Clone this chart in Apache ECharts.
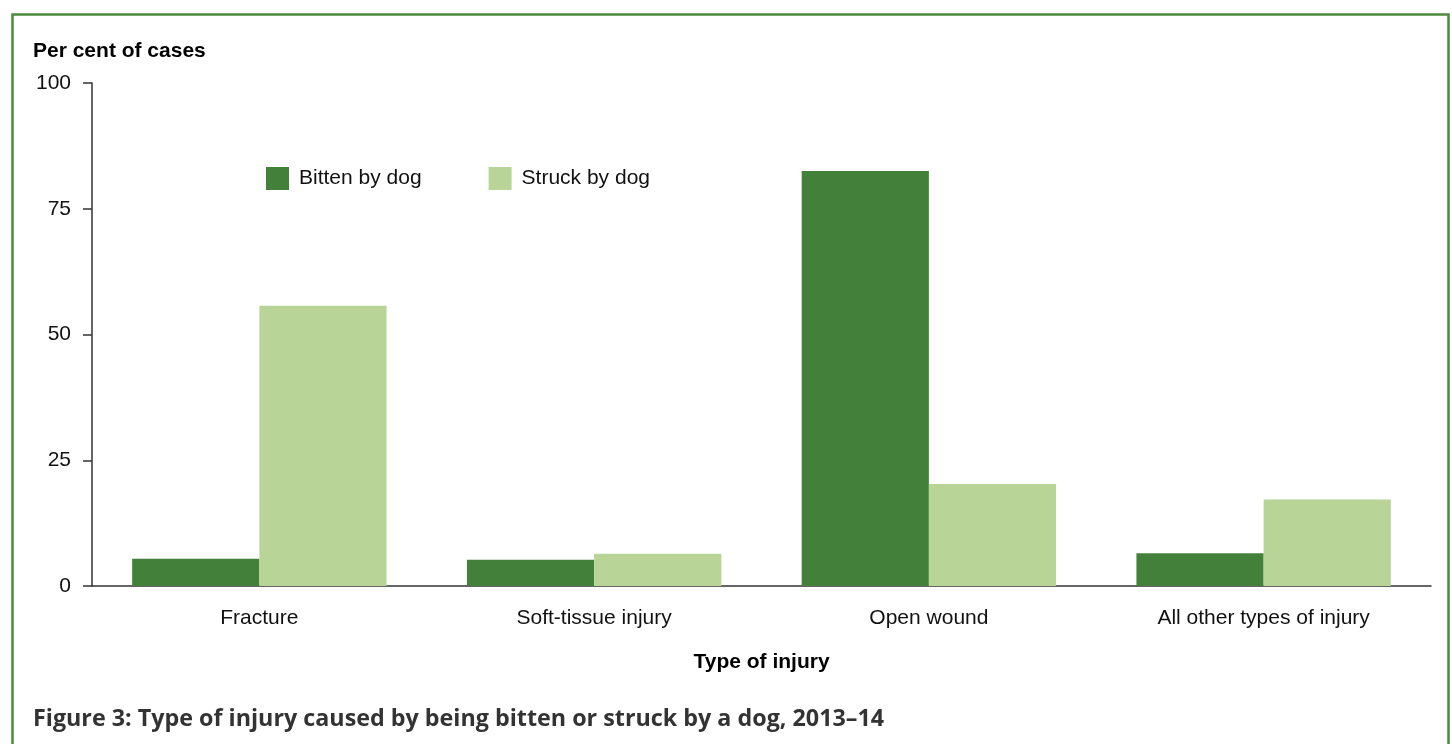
<!DOCTYPE html>
<html><head><meta charset="utf-8">
<script src="https://cdn.jsdelivr.net/npm/echarts@6/dist/echarts.min.js"></script>
<style>html,body{margin:0;padding:0;background:#fff}#c{width:1452px;height:744px}</style>
</head><body><div id="c"></div>
<script>
const categories = ['Fracture', 'Soft-tissue injury', 'Open wound', 'All other types of injury'];
const bitten = [5.4, 5.2, 82.5, 6.5];
const struck = [55.7, 6.4, 20.3, 17.2];
const yTicks = [0, 25, 50, 75, 100];

const chart = echarts.init(document.getElementById('c'));
chart.setOption({
  animation: false,
  graphic: [{
    type: 'rect', left: 10, top: 12,
    shape: { width: 1436, height: 760 },
    style: { fill: 'none', stroke: '#4b8a3e', lineWidth: 2.5 }, silent: true
  }],
  title: [
    { text: 'Per cent of cases', left: 33, top: 41, padding: 0,
      textStyle: { fontFamily: 'Liberation Sans', fontWeight: 'bold', fontSize: 21, color: '#000' } },
    { text: 'Figure 3: Type of injury caused by being bitten or struck by a dog, 2013–14', left: 33, top: 708, padding: 0,
      textStyle: { fontFamily: 'Open Sans', fontWeight: 'bold', fontSize: 23.3, color: '#333' } }
  ],
  legend: {
    left: 266, top: 167, itemWidth: 23, itemHeight: 23, itemGap: 67, icon: 'rect', padding: 0,
    textStyle: { fontFamily: 'Liberation Sans', fontSize: 21, color: '#111', padding: [2, 0, 0, 5] },
    data: ['Bitten by dog', 'Struck by dog']
  },
  grid: { left: 92, right: 21, top: 83, bottom: 158, containLabel: false },
  xAxis: {
    type: 'category', data: categories,
    name: 'Type of injury', nameLocation: 'middle', nameGap: 66,
    nameTextStyle: { fontFamily: 'Liberation Sans', fontWeight: 'bold', fontSize: 21, color: '#000' },
    axisLine: { lineStyle: { color: '#333', width: 1.5 } },
    axisTick: { show: false },
    axisLabel: { fontFamily: 'Liberation Sans', fontSize: 21, color: '#111', margin: 22 }
  },
  yAxis: {
    type: 'value', min: 0, max: 100, interval: 25,
    axisLine: { show: true, lineStyle: { color: '#333', width: 1.5 } },
    axisTick: { show: true, length: 9, lineStyle: { color: '#333', width: 1.5 } },
    splitLine: { show: false },
    axisLabel: { fontFamily: 'Liberation Sans', fontSize: 21, color: '#111', margin: 21,
      formatter: v => yTicks.includes(v) ? String(v) : '' }
  },
  series: [
    { name: 'Bitten by dog', type: 'bar', data: bitten, barGap: '0%', barCategoryGap: '24%',
      itemStyle: { color: '#43803a' } },
    { name: 'Struck by dog', type: 'bar', data: struck, barGap: '0%', barCategoryGap: '24%',
      itemStyle: { color: '#b8d597' } }
  ]
});
</script></body></html>
